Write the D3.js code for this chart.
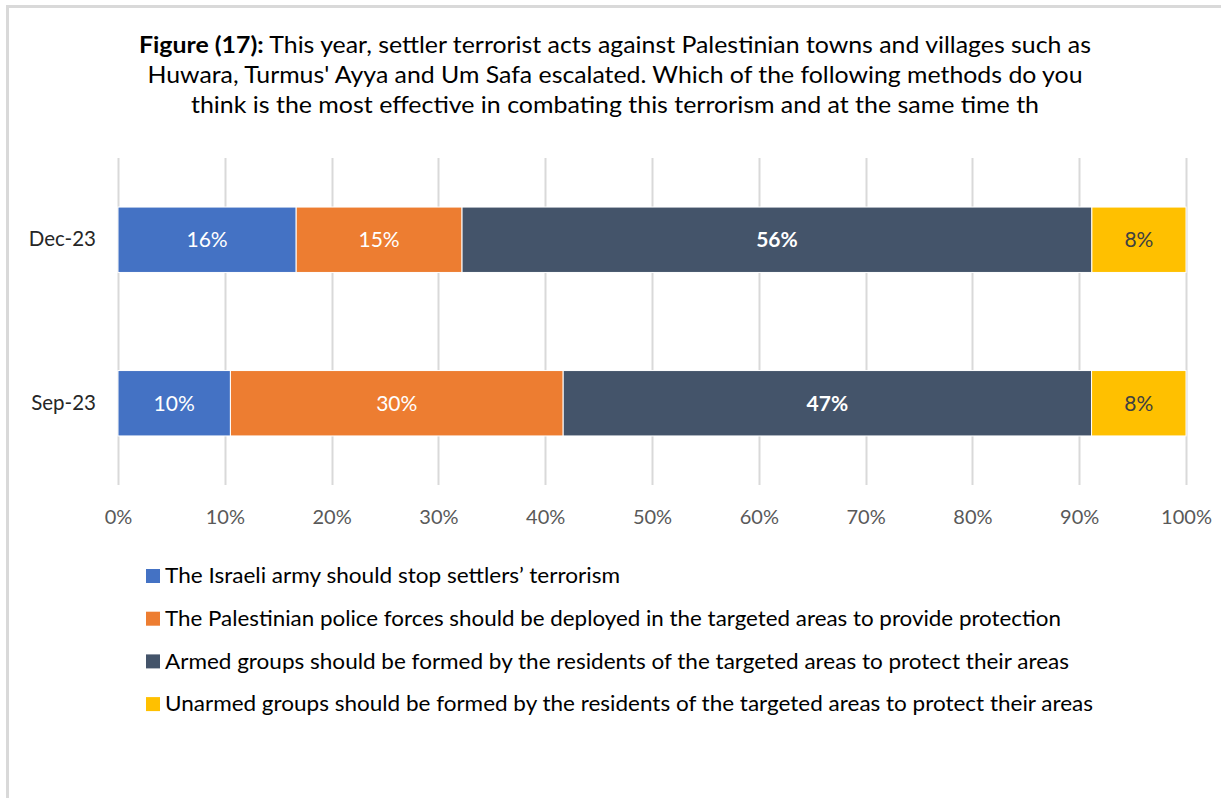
<!DOCTYPE html>
<html>
<head>
<meta charset="utf-8">
<script src="https://cdn.jsdelivr.net/npm/d3@7"></script>
<style>
  body { margin: 0; background: #fff; }
  text { font-family: Lato, "Open Sans", sans-serif; }
</style>
</head>
<body>
<script>
// chart data
const categories = ["Dec-23", "Sep-23"];
const seriesNames = [
  "The Israeli army should stop settlers\u2019 terrorism",
  "The Palestinian police forces should be deployed in the targeted areas to provide protection",
  "Armed groups should be formed by the residents of the targeted areas to protect their areas",
  "Unarmed groups should be formed by the residents of the targeted areas to protect their areas"
];
const israeliArmy   = [15.9, 10.0];
const policeForces  = [14.8, 29.6];
const armedGroups   = [56.2, 47.0];
const unarmedGroups = [8.4, 8.4];
const xTicks = [0, 0.1, 0.2, 0.3, 0.4, 0.5, 0.6, 0.7, 0.8, 0.9, 1];

const seriesColors = ["#4472C4", "#ED7D31", "#44546A", "#FFC000"];
const labelColors = ["#fff", "#fff", "#fff", "#404040"];
const labelWeights = ["normal", "normal", "bold", "normal"];

var width = 1221, height = 798;
var margin = {top: 158, right: 35, bottom: 313, left: 118};

var svg = d3.select("body").append("svg")
    .attr("width", width)
    .attr("height", height);

// outer frame (only top and left edges show)
svg.append("rect")
    .attr("x", 7.5).attr("y", 6.5)
    .attr("width", width + 20).attr("height", height + 20)
    .attr("fill", "none")
    .attr("stroke", "#d9d9d9")
    .attr("stroke-width", 3);

// title
var titleLines = [
  {bold: "Figure (17):", rest: " This year, settler terrorist acts against Palestinian towns and villages such as", w: 952},
  {bold: "", rest: "Huwara, Turmus' Ayya and Um Safa escalated. Which of the following methods do you", w: 935},
  {bold: "", rest: "think is the most effective in combating this terrorism and at the same time th", w: 848}
];
var title = svg.append("g");
titleLines.forEach(function(l, i) {
  var t = title.append("text")
      .attr("x", 615)
      .attr("y", 53 + i * 30)
      .attr("text-anchor", "middle")
      .attr("font-size", 22.5)
      .attr("fill", "#000")
      .attr("textLength", l.w)
      .attr("lengthAdjust", "spacingAndGlyphs");
  if (l.bold) t.append("tspan").attr("font-weight", "bold").text(l.bold);
  t.append("tspan").text(l.rest);
});

var table = categories.map(function(c, i) {
  return {
    cat: c,
    s0: israeliArmy[i],
    s1: policeForces[i],
    s2: armedGroups[i],
    s3: unarmedGroups[i]
  };
});
var keys = ["s0", "s1", "s2", "s3"];

var stacked = d3.stack()
    .keys(keys)
    .offset(d3.stackOffsetExpand)(table);

var x = d3.scaleLinear()
    .domain([0, 1])
    .range([margin.left, width - margin.right]);

var y = d3.scaleBand()
    .domain(categories)
    .range([margin.top, height - margin.bottom])
    .paddingInner(0.6)
    .paddingOuter(0.3);

// gridlines
svg.append("g")
    .selectAll("line")
    .data(xTicks)
    .enter().append("line")
    .attr("x1", function(d) { return Math.round(x(d)) + 0.5; })
    .attr("x2", function(d) { return Math.round(x(d)) + 0.5; })
    .attr("y1", margin.top)
    .attr("y2", height - margin.bottom)
    .attr("stroke", "#d9d9d9")
    .attr("stroke-width", 2);

// bars
var layers = svg.append("g")
    .selectAll("g")
    .data(stacked)
    .enter().append("g")
    .attr("fill", function(d, i) { return seriesColors[i]; });

layers.selectAll("rect")
    .data(function(d) { return d; })
    .enter().append("rect")
    .attr("x", function(d) { return x(d[0]); })
    .attr("y", function(d) { return y(d.data.cat); })
    .attr("width", function(d) { return x(d[1]) - x(d[0]); })
    .attr("height", y.bandwidth())
    .attr("stroke", "#fff")
    .attr("stroke-width", 1);

// labels in bars
layers.each(function(s, i) {
  d3.select(this).selectAll("text")
      .data(s)
      .enter().append("text")
      .attr("x", function(d) { return (x(d[0]) + x(d[1])) / 2; })
      .attr("y", function(d) { return y(d.data.cat) + y.bandwidth() / 2; })
      .attr("dy", "0.36em")
      .attr("text-anchor", "middle")
      .attr("font-size", 21)
      .attr("font-weight", labelWeights[i])
      .attr("fill", labelColors[i])
      .text(function(d) { return Math.round(d.data[s.key]) + "%"; });
});

// x axis
var xAxis = svg.append("g")
    .attr("transform", "translate(0," + (height - margin.bottom) + ")")
    .call(d3.axisBottom(x).tickValues(xTicks).tickFormat(d3.format(".0%")).tickSize(0).tickPadding(25));
xAxis.select(".domain").remove();
xAxis.selectAll("text")
    .attr("font-size", 20)
    .attr("font-family", "Lato, sans-serif")
    .attr("fill", "#595959");

// y axis
var yAxis = svg.append("g")
    .attr("transform", "translate(" + margin.left + ",0)")
    .call(d3.axisLeft(y).tickSize(0).tickPadding(22));
yAxis.select(".domain").remove();
yAxis.selectAll("text")
    .attr("font-size", 20.5)
    .attr("font-family", "Lato, sans-serif")
    .attr("fill", "#262626");

// legend
var legendWidths = [455, 896, 904, 928];
var legend = svg.append("g")
    .selectAll("g")
    .data(seriesNames)
    .enter().append("g")
    .attr("transform", function(d, i) { return "translate(146," + (576 + i * 42.7) + ")"; });

legend.append("rect")
    .attr("x", 0).attr("y", -7)
    .attr("width", 14).attr("height", 14)
    .attr("fill", function(d, i) { return seriesColors[i]; });

legend.append("text")
    .attr("x", 19)
    .attr("dy", "0.36em")
    .attr("font-size", 20.5)
    .attr("fill", "#000")
    .attr("textLength", function(d, i) { return legendWidths[i]; })
    .attr("lengthAdjust", "spacingAndGlyphs")
    .text(function(d) { return d; });
</script>
</body>
</html>
